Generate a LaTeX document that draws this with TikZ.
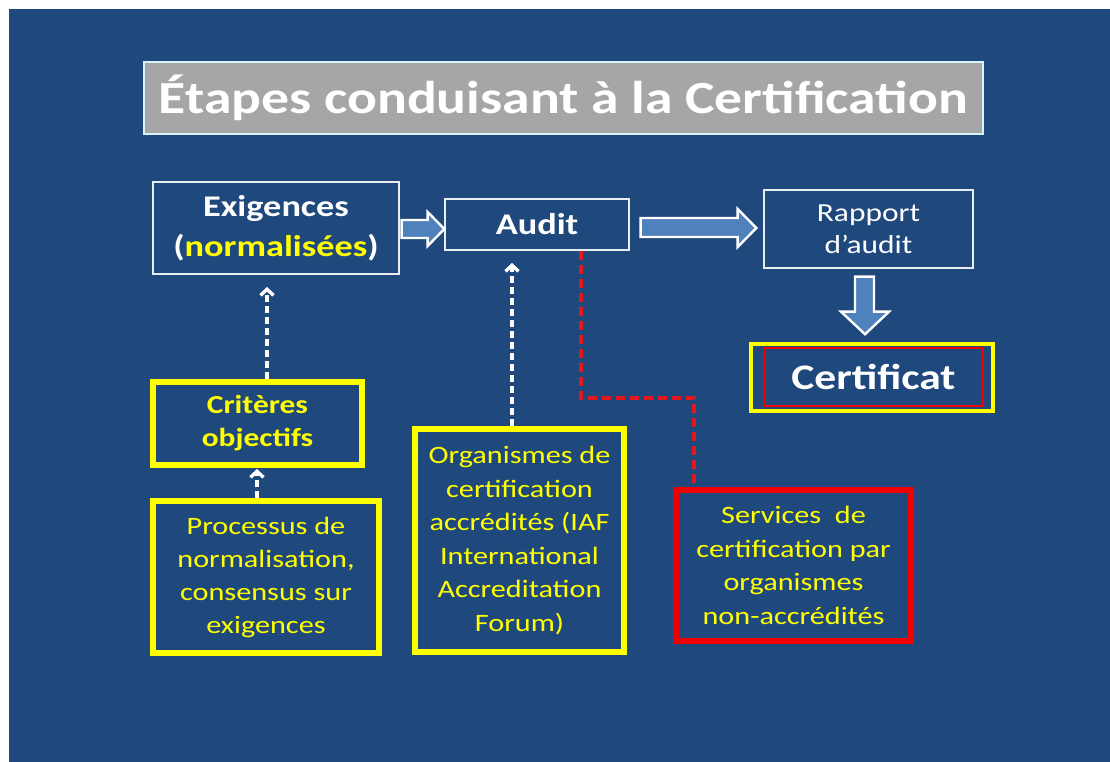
\documentclass[tikz,border=0pt]{standalone}
\usepackage{fontspec}
\setmainfont{Carlito}[FakeStretch=1.21]
\usetikzlibrary{calc,arrows.meta}
\definecolor{bg}{RGB}{31,73,125}
\definecolor{ttl}{RGB}{166,166,166}
\definecolor{barrow}{RGB}{79,129,189}
\definecolor{yel}{RGB}{255,255,0}
\definecolor{redb}{RGB}{240,0,0}
\definecolor{reddash}{RGB}{225,25,30}
\tikzset{
  wbox/.style={draw=white!90!bg, line width=1.3pt, inner sep=0pt, align=center, text=white},
  ybox/.style={draw=yel, line width=5.5pt, inner sep=0pt, align=center, text=yel},
  rbox/.style={draw=redb, line width=5.5pt, inner sep=0pt, align=center, text=yel},
  blockarrow/.style={fill=barrow, draw=white, line width=2.4pt, line join=miter},
  uparrow/.style={draw=white, line width=3.4pt, dash pattern=on 7pt off 4pt, -{Straight Barb[length=6pt,width=13pt]}},
  redline/.style={draw=reddash, line width=3.6pt, dash pattern=on 9pt off 5pt},
  bodyfont/.style={font=\fontsize{25}{33}\selectfont},
}
\begin{document}
\begin{tikzpicture}[x=1pt,y=-1pt]
\useasboundingbox (0,0) rectangle (1110,762);
\fill[white] (0,0) rectangle (1110,762);
\fill[bg] (9,9) rectangle (1110,762);

% title
\node[fill=ttl, draw=white!85!cyan, line width=1.3pt, minimum width=839, minimum height=72, inner sep=0pt, text=white,
      font=\fontsize{46}{50}\selectfont\bfseries] (title) at (563.5,98) {Étapes conduisant à la Certification};

% top row
\node[wbox, minimum width=246, minimum height=92, font=\fontsize{30}{40}\selectfont\bfseries] (exi) at (276,228)
  {Exigences\\(\textcolor{yel}{normalisées})};
\node[wbox, minimum width=184, minimum height=51, font=\fontsize{30}{36}\selectfont\bfseries] (aud) at (537,224.5) {Audit};
\node[wbox, minimum width=209, minimum height=78, font=\fontsize{26}{32}\selectfont] (rap) at (868.5,229) {Rapport\\d’audit};

% certificat
\node[ybox, line width=3.5pt, minimum width=242, minimum height=67] (cert) at (872,377.5) {};
\node[draw=redb, line width=1.1pt, minimum width=219, minimum height=58, inner sep=0pt, text=white,
      font=\fontsize{36}{40}\selectfont\bfseries] (certin) at (873.5,377) {Certificat};

% lower boxes
\node[ybox, minimum width=209, minimum height=83, font=\fontsize{26}{33}\selectfont\bfseries] (crit) at (257.5,423.5) {Critères\\objectifs};
\node[ybox, minimum width=226, minimum height=152, bodyfont] (proc) at (266,577)
  {Processus de\\normalisation,\\consensus sur\\exigences};
\node[ybox, minimum width=209, minimum height=223, font=\fontsize{25}{33.5}\selectfont] (org) at (519.5,540.5)
  {Organismes de\\certification\\accrédités (IAF\\International\\Accreditation\\Forum)};
\node[rbox, minimum width=235, minimum height=151, font=\fontsize{25}{33.5}\selectfont] (serv) at (793.5,565.5)
  {Services~~de\\certification par\\organismes\\non-accrédités};

% block arrows
\draw[blockarrow] ($(exi.east)+(2,-8)$) -- ++(26,0) -- ++(0,-8) -- ($(aud.west)+(0,4.5)$) -- ($(exi.east)+(28,18)$) -- ++(0,-8) -- ++(-26,0) -- cycle;
\draw[blockarrow] ($(aud.east)+(11,-6.5)$) -- ++(97,0) -- ++(0,-9) -- ($(rap.west)+(-7,-1)$) -- ($(aud.east)+(108,22.5)$) -- ++(0,-10) -- ++(-97,0) -- cycle;
\draw[blockarrow] ($(rap.south)+(-13.5,8)$) -- ++(0,35) -- ++(-14,0) -- ($(cert.north)+(-7,-8)$) -- ($(rap.south)+(20.5,43)$) -- ++(-15,0) -- ++(0,-35) -- cycle;

% dashed arrows
\coordinate (t1) at (267,287);
\coordinate (t2) at (257,469);
\coordinate (t3) at (512,263);
\draw[uparrow] (crit.north -| t1) -- (t1);
\draw[uparrow] (proc.north -| t2) -- (t2);
\draw[uparrow] (org.north -| t3) -- (t3);

% red dashed line
\coordinate (r1) at (581,398);
\coordinate (r2) at (694,398);
\draw[redline] (aud.south -| r1) -- (r1) -- (r2) -- (serv.north -| r2);
\end{tikzpicture}
\end{document}
